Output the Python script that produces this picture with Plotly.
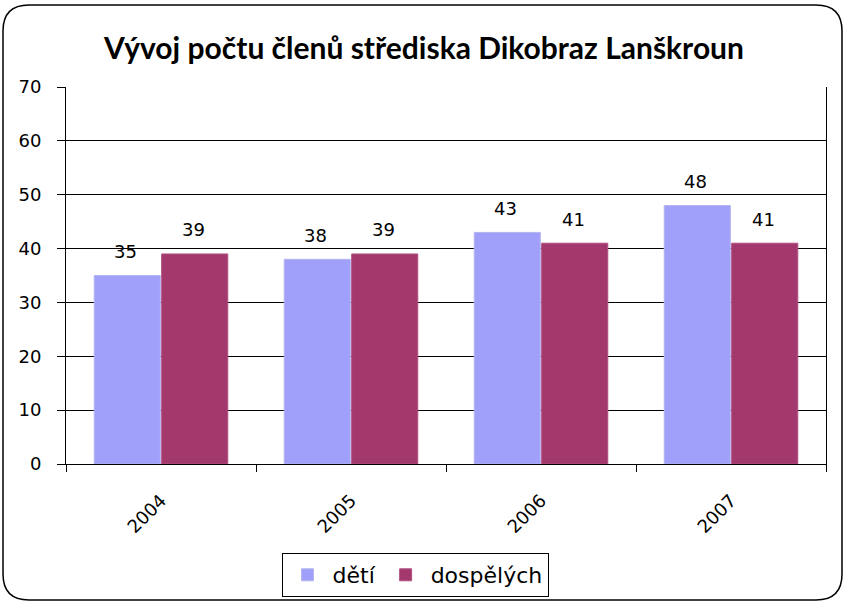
import plotly.graph_objects as go

years = ["2004", "2005", "2006", "2007"]
deti = [35, 38, 43, 48]
dospelych = [39, 39, 41, 41]
series_names = ["dětí", "dospělých"]
title_text = "Vývoj počtu členů střediska Dikobraz Lanškroun"

W, H = 845, 603
ml, mr, mt, mb = 66, 19, 87, 139

fig = go.Figure()
fig.add_bar(x=years, y=deti, name=series_names[0],
            marker=dict(color="#A0A0FA", line=dict(color="#B4B4F0", width=1)))
fig.add_bar(x=years, y=dospelych, name=series_names[1],
            marker=dict(color="#A3386D", line=dict(color="#B05080", width=1)))

annots = []
for i, (v1, v2) in enumerate(zip(deti, dospelych)):
    for v, xs in ((v1, -36), (v2, 32)):
        annots.append(dict(x=i, y=v, xref="x", yref="y", text=str(v), showarrow=False,
                           xshift=xs, yshift=24, yanchor="middle",
                           font=dict(family="DejaVu Sans", size=18, color="#000")))

# rounded outer border in pixel -> paper coords
pw, ph = W - ml - mr, H - mt - mb
def px(x):
    return (x - ml) / pw
def py(y):
    return (H - mb - y) / ph
x0, x1, y0, y1, r = 3, 842, 5, 600, 26
path = (f"M {px(x0+r)},{py(y0)} L {px(x1-r)},{py(y0)} Q {px(x1)},{py(y0)} {px(x1)},{py(y0+r)} "
        f"L {px(x1)},{py(y1-r)} Q {px(x1)},{py(y1)} {px(x1-r)},{py(y1)} "
        f"L {px(x0+r)},{py(y1)} Q {px(x0)},{py(y1)} {px(x0)},{py(y1-r)} "
        f"L {px(x0)},{py(y0+r)} Q {px(x0)},{py(y0)} {px(x0+r)},{py(y0)} Z")

fig.update_layout(
    width=W, height=H,
    margin=dict(l=ml, r=mr, t=mt, b=mb, autoexpand=False),
    paper_bgcolor="white", plot_bgcolor="white",
    barmode="group", bargap=0.29, bargroupgap=0.02,
    title=dict(text=title_text, x=424 / W, xanchor="center", y=1 - 48 / H, yanchor="middle",
               font=dict(family="Lato", size=30, weight="bold", color="#000")),
    font=dict(family="DejaVu Sans", size=18, color="#000"),
    xaxis=dict(type="category", range=[-0.5, 3.5], automargin=False, showline=True,
               linecolor="#000", linewidth=1,
               ticks="outside", tickson="boundaries",
               ticklen=7, tickcolor="#000", tickangle=-45, ticklabelstandoff=18,
               tickfont=dict(family="DejaVu Sans", size=18)),
    yaxis=dict(range=[0, 70], dtick=10, automargin=False, showline=True, mirror=True,
               linecolor="#000", linewidth=1,
               ticks="outside", ticklen=8, tickcolor="#000", showgrid=True, gridcolor="#000",
               gridwidth=1, zeroline=False, ticklabelstandoff=12,
               tickfont=dict(family="DejaVu Sans", size=18)),
    legend=dict(orientation="h", x=px(415), xanchor="center", y=py(553), yanchor="top",
                bordercolor="#000", borderwidth=1, bgcolor="white",
                font=dict(family="DejaVu Sans", size=22, color="#000"), itemwidth=40,
                traceorder="normal"),
    annotations=annots,
    shapes=[dict(type="path", path=path, xref="paper", yref="paper",
                 line=dict(color="#000", width=1.5), layer="above")],
)

fig.write_html("out.html", config={"displayModeBar": False},
               post_script="document.body.style.margin='0';document.body.style.overflow='hidden';")
